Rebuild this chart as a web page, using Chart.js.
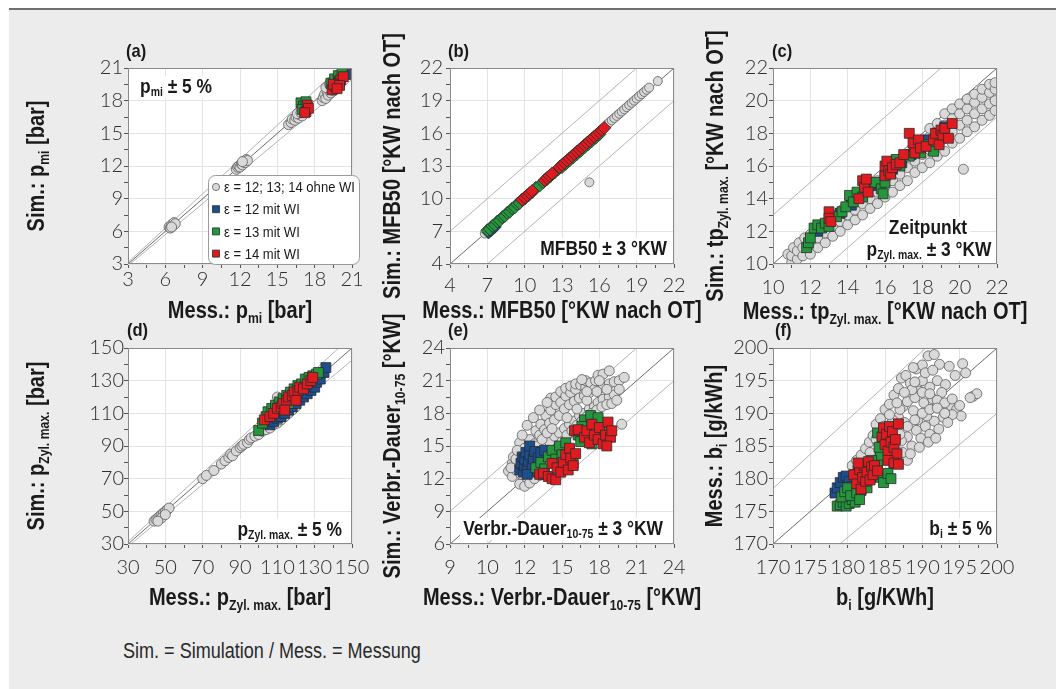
<!DOCTYPE html>
<html>
<head>
<meta charset="utf-8">
<script src="https://cdn.jsdelivr.net/npm/chart.js@4.4.1/dist/chart.umd.min.js"></script>
<style>
  html, body { margin: 0; padding: 0; background: #fff; width: 1056px; height: 689px; overflow: hidden; }
  #frame { position: absolute; left: 9px; top: 8px; width: 1047px; height: 681px; background: #ececec; border-top: 2px solid #707070; box-sizing: border-box; }
  canvas { position: absolute; }
  #note { position: absolute; left: 123px; top: 638px; font: 22px 'Liberation Sans', sans-serif; color: #2a2a2a; white-space: nowrap; transform: scaleX(0.82); transform-origin: 0 0; }
</style>
</head>
<body>
<div id="frame"></div>
<div id="note">Sim. = Simulation / Mess. = Messung</div>
<script>
// series (same four groups in every panel)
const seriesNames = ['ε = 12; 13; 14 ohne WI', 'ε = 12 mit WI', 'ε = 13 mit WI', 'ε = 14 mit WI'];
const seriesFill = ['#d9d9d9', '#1b4f8f', '#24973c', '#df1b20'];

// (a) p_mi [bar]
const aTicks = [3, 6, 9, 12, 15, 18, 21];
const aGray = [[6.3,6.4],[6.4,6.3],[6.5,6.6],[6.6,6.5],[6.7,6.8],[6.8,6.7],[6.5,6.4],[11.7,11.7],[11.8,11.9],[11.9,12.0],[12.0,11.9],[12.1,12.2],[12.2,12.1],[12.3,12.4],[12.4,12.3],[12.5,12.6],[12.6,12.5],[12.2,12.4],[15.9,15.8],[16.1,16.0],[16.2,16.3],[16.4,16.2],[16.5,16.5],[16.7,16.4],[16.8,16.7],[17.0,16.6],[16.6,16.8],[16.9,16.9],[18.6,18.0],[18.7,18.3],[18.8,18.6],[18.9,18.2],[19.0,18.8],[19.1,18.5],[19.2,19.0],[19.3,18.7],[19.4,19.2],[19.5,18.9],[19.6,19.4],[19.7,19.1],[18.9,19.2],[19.2,19.5],[19.5,19.7]];
const aBlue = [[19.4,19.6],[19.8,19.9],[20.2,20.3],[20.5,20.4],[17.2,17.1],[19.6,19.3],[20.0,20.1]];
const aGreen = [[16.9,17.8],[17.1,17.5],[17.3,17.9],[17.0,17.2],[19.3,19.6],[19.6,20.0],[19.9,20.3],[20.2,20.5],[19.5,19.2],[20.0,19.8]];
const aRed = [[17.4,17.6],[17.3,17.0],[17.5,17.3],[17.2,16.9],[19.4,19.0],[19.7,19.3],[19.9,19.6],[20.1,19.9],[20.3,20.2],[19.5,19.5],[20.0,19.4],[19.8,19.1]];
const aLine = [[3,3],[21,21]], aUpper = [[3,3.15],[20,21]], aLower = [[3,2.85],[21,19.95]];

// (b) MFB50 [°KW nach OT]
const bTicks = [4, 7, 10, 13, 16, 19, 22];
const bGray = [[6.8,6.8],[16.6,16.8],[16.8,17.0],[17.0,17.2],[17.2,17.4],[17.4,17.6],[17.6,17.8],[17.8,18.0],[18.0,18.2],[18.2,18.4],[18.4,18.6],[18.6,18.8],[18.8,19.0],[19.0,19.2],[19.2,19.4],[19.4,19.6],[19.6,19.8],[19.8,20.0],[20.0,20.2],[20.7,20.8],[15.2,11.5]];
const bBlue = [[7.1,6.9],[7.3,7.1],[7.6,7.4]];
const bGreen = [[7.0,7.1],[7.2,7.2],[7.4,7.5],[7.6,7.6],[7.8,7.9],[8.0,8.0],[8.2,8.3],[8.4,8.4],[8.6,8.7],[8.8,8.8],[9.0,9.1],[9.2,9.2],[9.4,9.5],[9.6,9.6],[9.8,9.9],[10.0,10.0],[10.3,10.3],[10.6,10.6],[10.9,11.0],[11.2,11.2],[11.5,11.5],[11.8,11.8],[12.1,12.1],[12.4,12.4],[12.7,12.7],[13.0,12.9],[13.3,13.2],[13.6,13.5],[13.9,13.8],[14.2,14.1],[14.5,14.4],[14.8,14.7],[15.1,15.0],[15.4,15.3],[15.7,15.6],[16.0,15.9]];
const bRed = [[9.8,9.9],[10.0,10.1],[10.2,10.3],[10.4,10.5],[10.6,10.7],[11.6,11.7],[11.8,11.9],[12.0,12.1],[12.2,12.3],[12.8,12.9],[13.0,13.1],[13.2,13.3],[13.4,13.5],[13.6,13.7],[13.8,13.9],[14.0,14.1],[14.2,14.3],[14.4,14.5],[14.6,14.7],[14.8,14.9],[15.0,15.1],[15.2,15.3],[15.4,15.5],[15.6,15.7],[15.8,15.9],[16.0,16.1],[16.2,16.3],[16.4,16.5]];
const bLine = [[4,4],[22,22]], bUpper = [[4,7],[19,22]], bLower = [[7,4],[22,19]];

// (c) tp_Zyl.max. [°KW nach OT]
const cTicks = [10, 12, 14, 16, 18, 20, 22];
const cGray = [[10.8,10.6],[11.0,10.1],[11.0,10.5],[11.1,11.0],[11.3,10.3],[11.3,10.8],[11.4,11.3],[11.6,10.5],[11.6,11.0],[11.7,11.6],[12.0,10.6],[12.0,11.2],[12.0,11.8],[12.4,11.0],[12.4,11.6],[12.4,12.2],[12.8,11.3],[12.8,11.9],[12.8,12.5],[13.2,11.7],[13.2,12.3],[13.2,12.9],[13.6,12.0],[13.6,12.6],[13.6,13.2],[14.0,12.4],[14.0,13.0],[14.0,13.6],[14.4,12.7],[14.4,13.3],[14.4,14.0],[14.8,13.0],[14.8,13.7],[14.8,14.4],[15.2,13.4],[15.2,14.0],[15.2,14.8],[15.6,13.7],[15.6,14.4],[15.6,15.1],[16.0,14.1],[16.0,14.8],[16.0,15.5],[16.4,14.4],[16.4,15.1],[16.4,15.9],[16.8,14.8],[16.8,15.5],[16.8,16.3],[17.2,15.1],[17.2,15.9],[17.2,16.7],[17.6,15.6],[17.6,16.3],[17.6,17.0],[18.0,15.9],[18.0,16.7],[18.0,17.5],[18.4,16.2],[18.4,17.0],[18.4,17.8],[18.4,18.3],[18.8,16.6],[18.8,17.4],[18.8,18.2],[18.8,18.6],[19.2,16.9],[19.2,17.7],[19.2,18.5],[19.2,19.2],[19.6,17.4],[19.6,18.1],[19.6,18.9],[19.6,19.5],[20.0,17.7],[20.0,18.5],[20.0,19.2],[20.0,19.8],[20.4,18.1],[20.4,18.8],[20.4,19.5],[20.4,20.1],[20.8,18.4],[20.8,19.2],[20.8,19.9],[20.8,20.4],[21.2,18.8],[21.2,19.5],[21.2,20.2],[21.2,20.7],[21.6,19.1],[21.6,19.8],[21.6,20.5],[21.6,21.0],[21.9,19.4],[21.9,20.0],[21.9,20.7],[21.9,21.1],[20.2,15.8]];
const cBlue = [[12.4,12.0],[13.0,12.6],[13.6,13.1],[14.2,13.6],[14.8,14.2],[15.4,14.8],[16.0,15.4],[16.4,15.8],[16.9,16.2],[17.4,16.7],[17.8,17.1],[18.3,17.6],[18.8,18.0],[19.2,18.4]];
const cGreen = [[11.8,11.0],[11.9,11.3],[12.0,11.6],[12.2,12.2],[12.4,12.4],[12.6,12.2],[12.8,12.5],[13.0,12.3],[13.4,12.9],[13.7,13.2],[13.9,13.5],[14.1,14.2],[14.3,13.8],[14.5,14.4],[14.8,14.1],[15.0,14.7],[15.2,14.9],[15.5,15.0],[15.8,14.6],[15.9,14.3],[16.0,15.0],[16.3,15.6],[16.6,16.4],[16.8,16.0],[17.3,16.6],[17.6,16.8],[17.9,16.8],[18.3,17.3],[18.6,16.9],[18.9,17.6],[19.1,17.8]];
const cRed = [[13.0,13.2],[13.0,12.8],[13.1,12.6],[14.6,14.0],[14.8,15.1],[14.9,14.7],[15.0,15.2],[15.1,14.4],[16.0,15.4],[16.0,16.0],[16.1,16.3],[16.2,15.7],[16.3,15.5],[16.4,15.9],[16.6,16.1],[16.8,16.2],[17.0,16.7],[17.3,18.0],[17.5,17.4],[17.6,16.8],[17.8,17.6],[17.9,17.1],[18.2,17.2],[18.6,17.6],[18.7,18.0],[18.9,17.3],[19.0,18.2],[19.1,17.9],[19.2,18.3],[19.4,17.7],[19.6,18.6]];
const cLine = [[10,10],[22,22]], cUpper = [[10,13],[19,22]], cLower = [[13,10],[22,19]];

// (d) p_Zyl.max. [bar]
const dTicks = [30, 50, 70, 90, 110, 130, 150];
const dGray = [[44,44],[45,45],[46,46],[47,47],[48,48],[49,49],[50,50],[51,51],[52,52],[48,46],[50,48],[46,44],[70,70],[72,72],[76,75],[80,79],[82,81],[84,83],[85,85],[86,84],[88,87],[90,89],[91,90],[92,91],[94,92],[95,94],[96,95],[98,96],[100,97],[102,99],[104,100],[106,101],[108,103],[110,104],[112,106],[114,108],[116,110],[110,120],[118,112],[120,114]];
const dBlue = [[106,103],[108,105],[110,107],[112,108],[114,110],[116,112],[118,114],[120,116],[122,118],[124,120],[126,122],[128,124],[130,126],[131,129],[133,131],[135,135],[136,138],[120,121],[125,127]];
const dGreen = [[100,99.5],[102,104],[104,108],[105,111],[107,113],[109,115],[111,117],[113,119],[115,121],[117,123],[119,125],[121,127],[123,128],[125,131],[127,132],[129,133],[131,134],[132,135],[112,113],[116,116]];
const dRed = [[103,106],[106,108],[108,110],[110,113],[112,114],[113,116],[115,118],[116,120],[118,121],[119,123],[121,124],[122,126],[124,125],[126,128],[128,130],[129,132],[114,112],[120,118]];
const dLine = [[30,30],[150,150]], dUpper = [[30,31.5],[142.86,150]], dLower = [[30,28.5],[150,142.5]];

// (e) Verbr.-Dauer 10-75 [°KW]  (x tick labels as printed in the original)
const eTicks = [6, 9, 12, 15, 18, 21, 24];
const eXTickLabels = ['9', '10', '12', '15', '18', '21', '24'];
const eGray = [[10.7,12.7],[11.0,12.2],[11.0,13.4],[11.1,14.0],[11.3,12.8],[11.3,13.8],[11.6,11.5],[11.6,15.3],[11.7,12.4],[12.0,11.3],[12.0,14.8],[12.1,13.0],[12.4,11.6],[12.4,15.6],[12.5,14.2],[12.8,12.0],[12.8,15.2],[12.9,16.4],[13.2,12.3],[13.2,16.0],[13.3,17.0],[13.3,14.3],[13.6,14.9],[13.6,16.5],[13.7,17.8],[14.0,15.4],[14.0,17.1],[14.1,18.3],[14.1,19.4],[14.4,15.9],[14.4,17.4],[14.5,18.8],[14.5,19.5],[14.8,16.2],[14.8,17.8],[14.9,19.0],[14.9,20.0],[15.2,16.6],[15.2,18.4],[15.3,19.6],[15.3,20.3],[15.6,17.0],[15.6,18.8],[15.7,19.9],[15.7,20.5],[16.0,17.3],[16.0,19.1],[16.1,20.2],[16.1,20.7],[16.4,17.8],[16.4,19.4],[16.5,20.6],[16.8,18.0],[16.8,19.6],[16.9,20.4],[16.9,21.0],[17.2,18.4],[17.2,19.9],[17.3,20.8],[17.6,18.6],[17.6,20.2],[17.7,21.0],[17.9,21.5],[17.9,19.0],[18.3,21.6],[18.3,20.4],[18.3,19.3],[18.8,21.9],[18.8,20.7],[18.8,19.5],[19.2,20.9],[19.2,19.7],[19.6,21.0],[19.6,20.2],[20.0,21.3],[19.8,17.0],[13.8,13.6],[14.2,14.2],[14.6,14.8],[15.0,15.4],[15.4,16.0],[15.8,16.4],[16.2,16.9],[16.6,17.3],[17.0,17.7],[17.4,18.0],[17.8,18.3],[18.2,18.6],[18.6,18.8],[19.0,18.9],[19.4,19.2],[12.6,13.0],[13.0,15.0],[13.4,15.6],[13.8,16.2],[14.2,16.6],[15.4,17.6],[16.2,18.4],[17.0,19.2],[17.8,20.0],[18.6,20.2],[18.0,21.0],[17.0,20.0],[16.6,21.1],[10.9,13.0],[11.4,14.6],[11.8,16.0],[12.2,16.9],[12.7,17.6],[13.2,18.3],[13.8,19.0]];
const eBlue = [[11.6,12.8],[11.7,13.4],[11.8,14.0],[11.9,12.6],[12.0,13.2],[12.0,13.8],[12.1,14.4],[12.2,12.9],[12.3,13.6],[12.4,14.2],[12.4,15.0],[12.6,13.1],[12.7,13.8],[12.8,14.5],[13.0,12.6],[13.1,13.9],[13.3,14.4],[13.5,12.4],[13.6,14.6],[12.2,12.4]];
const eGreen = [[12.9,13.0],[13.3,13.5],[13.6,12.9],[13.9,14.0],[14.2,14.6],[14.5,13.8],[14.8,15.0],[15.0,14.2],[15.3,15.3],[15.6,14.6],[15.9,13.4],[16.3,16.0],[16.5,15.4],[16.8,17.4],[17.0,16.6],[17.3,17.8],[17.6,17.0],[17.9,17.6],[18.2,16.3],[17.4,15.2],[16.6,16.8]];
const eRed = [[13.2,12.4],[13.5,12.5],[13.9,12.2],[14.2,12.0],[14.5,11.9],[14.2,13.4],[14.6,13.0],[14.9,12.6],[15.1,13.5],[15.3,14.2],[15.5,12.8],[15.7,13.9],[15.9,13.2],[15.6,14.8],[16.1,14.3],[16.0,16.4],[16.3,16.5],[16.8,15.8],[17.0,16.4],[17.2,15.3],[17.4,17.0],[17.6,16.0],[17.9,15.6],[18.0,16.7],[18.3,15.2],[18.5,16.0],[18.7,17.2],[18.9,15.8],[19.0,16.4],[18.6,15.0]];
const eLine = [[6,6],[24,24]], eUpper = [[6,9],[21,24]], eLower = [[9,6],[24,21]];

// (f) b_i [g/kWh]
const fTicks = [170, 175, 180, 185, 190, 195, 200];
const fGray = [[180.6,182.0],[181.2,182.8],[181.8,183.6],[182.4,184.6],[182.9,185.6],[183.4,186.6],[183.8,188.3],[184.4,189.2],[185.0,190.6],[185.6,191.4],[186.2,192.8],[186.8,193.8],[187.2,195.4],[187.8,195.8],[188.4,194.6],[189.2,196.8],[190.0,197.4],[190.8,198.8],[191.6,199.0],[192.3,197.5],[192.0,195.0],[193.1,194.4],[191.0,194.0],[189.6,193.4],[188.2,192.6],[187.4,191.0],[186.8,189.4],[186.3,187.8],[187.6,188.6],[188.8,190.4],[190.2,191.6],[191.4,192.2],[192.6,193.2],[193.8,191.2],[194.6,190.6],[195.2,189.6],[194.0,189.8],[192.8,189.4],[191.6,188.8],[190.4,188.0],[189.2,187.4],[188.0,186.4],[187.2,185.8],[188.6,185.0],[189.8,186.2],[191.0,186.8],[192.2,187.6],[193.4,188.6],[190.6,189.6],[189.4,189.0],[188.0,182.8],[186.6,184.2],[185.6,186.0],[195.4,197.6],[195.8,196.2],[196.8,192.6],[197.3,193.0],[196.4,192.4],[184.8,184.4],[183.6,183.2],[182.6,182.0],[186.0,182.6],[183.0,184.0],[184.0,185.6],[185.0,187.4],[186.0,189.0],[187.0,190.6],[188.0,191.8],[189.0,192.4],[190.0,193.2],[191.0,193.0],[192.0,192.0],[193.0,191.6],[194.0,192.2],[195.0,191.2],[188.6,193.6],[187.6,193.2],[186.6,191.6],[185.6,189.8],[184.8,188.0],[183.8,186.0],[185.0,184.2],[186.0,185.4],[187.0,186.8],[188.0,188.0],[189.0,189.0],[190.0,190.0],[191.0,190.6],[192.0,190.8],[193.0,190.0],[190.0,195.0],[189.0,194.8],[188.8,197.0],[190.4,196.2],[191.4,196.6],[193.6,197.2],[194.4,195.8],[189.6,184.8],[190.8,185.6],[187.4,184.0],[188.4,183.8],[191.8,186.2]];
const fBlue = [[178.3,177.8],[178.6,178.6],[179.0,179.4],[179.4,180.2],[179.8,180.4],[180.2,179.6],[180.6,178.8],[181.0,180.6],[181.4,181.2],[182.0,181.6],[183.2,180.4],[185.8,184.0],[186.2,182.4]];
const fGreen = [[178.6,175.8],[179.0,176.0],[179.4,176.4],[179.8,175.8],[180.2,176.2],[180.6,176.8],[181.0,176.4],[179.2,177.2],[179.6,178.0],[180.0,178.6],[180.4,177.4],[181.2,177.8],[181.8,178.2],[181.6,176.8],[182.2,179.0],[182.6,178.6],[183.0,180.0],[183.6,180.6],[184.4,180.2],[184.8,179.4],[185.4,180.8],[185.8,180.0],[183.4,181.6],[184.0,182.4],[184.4,183.6],[184.6,186.0],[184.0,187.0],[184.2,184.8],[185.2,185.4],[183.2,182.8]];
const fRed = [[180.8,180.6],[181.2,179.2],[181.6,181.4],[181.8,178.4],[182.0,180.2],[182.2,182.0],[182.4,179.6],[182.6,181.0],[182.8,182.6],[183.0,179.8],[183.2,181.8],[183.4,180.6],[183.6,182.0],[184.0,181.2],[181.4,182.4],[184.6,186.4],[184.8,187.8],[185.0,185.2],[185.2,186.8],[185.4,184.2],[185.6,188.0],[185.8,185.6],[186.0,187.2],[186.2,184.8],[186.4,186.0],[186.6,183.8],[186.8,188.4],[185.4,182.8],[186.2,182.4],[186.8,182.2]];
const fLine = [[170,170],[200,200]], fUpper = [[170,178.5],[190.48,200]], fLower = [[178.95,170],[200,190]];

const FONT = "'Liberation Sans', Arial, sans-serif";
const SX = 0.87;            // horizontal squeeze for a condensed look
const INK = '#1a1a1a';
const PW = 224, PH = 196, ML = 110, MT = 56, MR = 50, MB = 72;

const pts = a => a.map(p => ({ x: p[0], y: p[1] }));

function partFont(p, size, weight) {
  return `${weight} ${p[1] ? Math.round(size * 0.62) : size}px ${FONT}`;
}

function richWidth(ctx, parts, size, weight = 'bold') {
  let w = 0;
  parts.forEach(p => {
    ctx.font = partFont(p, size, weight);
    w += ctx.measureText(p[0]).width * SX;
  });
  return w;
}

function rich(ctx, parts, x, y, size, align, weight = 'bold') {
  const w = richWidth(ctx, parts, size, weight);
  let cx = align === 'center' ? x - w / 2 : align === 'right' ? x - w : x;
  ctx.textAlign = 'left';
  ctx.textBaseline = 'middle';
  parts.forEach(p => {
    ctx.font = partFont(p, size, weight);
    ctx.save();
    ctx.translate(cx, p[1] ? y + size * 0.3 : y);
    ctx.scale(SX, 1);
    ctx.fillText(p[0], 0, 0);
    ctx.restore();
    cx += ctx.measureText(p[0]).width * SX;
  });
  return w;
}

function drawLegend(ctx, x, y) {
  ctx.fillStyle = '#fff';
  ctx.strokeStyle = '#9a9a9a';
  ctx.lineWidth = 1;
  ctx.beginPath();
  ctx.roundRect(x + 0.5, y + 0.5, 151, 89, 7);
  ctx.fill();
  ctx.stroke();
  seriesNames.forEach((name, k) => {
    const cy = y + 12 + k * 22.2, mx = x + 8;
    ctx.fillStyle = seriesFill[k];
    ctx.strokeStyle = k ? '#2b2b2b' : '#5a5a5a';
    ctx.lineWidth = 0.8;
    ctx.beginPath();
    if (k) ctx.rect(mx - 3.5, cy - 3.5, 7, 7);
    else ctx.arc(mx, cy, 3.6, 0, 2 * Math.PI);
    ctx.fill();
    ctx.stroke();
    ctx.fillStyle = INK;
    rich(ctx, [[name]], x + 16, cy + 1, 15, 'left', 'normal');
  });
}

function makeDeco(p) {
  const ox = p.L - ML, oy = p.T - MT;
  return {
    id: 'deco',
    beforeDraw(chart) {
      const { ctx, chartArea: a } = chart;
      ctx.save();
      ctx.fillStyle = '#fff';
      ctx.fillRect(a.left, a.top, a.width, a.height);
      ctx.restore();
    },
    afterDraw(chart) {
      const { ctx, chartArea: a } = chart;
      ctx.save();
      ctx.strokeStyle = '#8a8a8a';
      ctx.lineWidth = 1;
      ctx.strokeRect(a.left + 0.5, a.top + 0.5, a.width - 1, a.height - 1);

      ctx.fillStyle = INK;
      rich(ctx, [[p.tag]], p.tagX - ox, p.tagY - oy, 19, 'left');

      rich(ctx, p.xTitle, a.left + a.width / 2, p.xTitleY - oy, 23, 'center');
      ctx.save();
      ctx.translate(p.yTitleX - ox, a.top + a.height / 2);
      ctx.rotate(-Math.PI / 2);
      rich(ctx, p.yTitle, 0, 0, 23, 'center');
      ctx.restore();

      p.notes.forEach(n => {
        const w = richWidth(ctx, n.parts, 20);
        const x0 = n.align === 'center' ? n.x - w / 2 : n.align === 'right' ? n.x - w : n.x;
        ctx.fillStyle = '#fff';
        ctx.fillRect(x0 - ox - 3, n.y - oy - 11, w + 6, 22);
        ctx.fillStyle = INK;
        rich(ctx, n.parts, n.x - ox, n.y - oy, 20, n.align);
      });

      if (p.legend) drawLegend(ctx, 208 - ox, 175 - oy);
      ctx.restore();
    }
  };
}

function axis(values, labels, pad, isX) {
  const min = values[0], max = values[values.length - 1], step = values[1] - values[0];
  return {
    type: 'linear',
    min: min,
    max: max,
    afterBuildTicks: s => {
      s.ticks = [];
      for (let i = 0; i <= 2 * (values.length - 1); i++) s.ticks.push({ value: min + i * step / 2 });
    },
    afterFit: s => { if (isX) s.height = MB; else s.width = ML; },
    ticks: {
      autoSkip: false,
      maxRotation: 0,
      padding: pad,
      color: '#2e2e2e',
      font: { family: 'Lato', size: 20, weight: '300', lineHeight: 1 },
      callback: (v, i) => (i % 2 ? '' : String(labels[i / 2]))
    },
    grid: {
      color: c => (c.index % 2 ? 'rgba(0,0,0,0)' : '#e3e3e3'),
      tickColor: '#555',
      tickLength: 4,
      lineWidth: 1
    },
    border: { display: false }
  };
}

function panel(p) {
  const cv = document.createElement('canvas');
  cv.width = PW + ML + MR;
  cv.height = PH + MT + MB;
  cv.style.left = (p.L - ML) + 'px';
  cv.style.top = (p.T - MT) + 'px';
  document.body.appendChild(cv);

  const sets = p.series.map((d, k) => ({
    data: pts(d),
    pointStyle: k ? p.square : 'circle',
    pointRadius: k ? p.rs : p.rc,
    backgroundColor: seriesFill[k],
    borderColor: k ? '#2b2b2b' : '#5c5c5c',
    borderWidth: 0.8,
    order: 10 - k
  }));
  p.lines.forEach((l, k) => sets.push({
    data: pts(l),
    showLine: true,
    pointRadius: 0,
    borderColor: k ? '#b4b4b4' : '#6a6a6a',
    borderWidth: 1,
    order: 20
  }));

  return new Chart(cv, {
    type: 'scatter',
    data: { datasets: sets },
    options: {
      responsive: false,
      animation: false,
      events: [],
      layout: { padding: { top: MT, right: MR, left: 0, bottom: 0 } },
      plugins: { legend: { display: false }, tooltip: { enabled: false } },
      scales: {
        x: axis(p.x, p.xLabels || p.x, p.xPad, true),
        y: axis(p.y, p.y, p.yPad, false)
      }
    },
    plugins: [makeDeco(p)]
  });
}

panel({
  L: 128, T: 68, tag: '(a)', tagX: 126, tagY: 52,
  x: aTicks, y: aTicks, xPad: 2, yPad: 1,
  series: [aGray, aBlue, aGreen, aRed], lines: [aLine, aUpper, aLower],
  square: 'rect', rc: 5, rs: 7,
  xTitle: [['Mess.: p'], ['mi', 1], [' [bar]']], xTitleY: 312,
  yTitle: [['Sim.: p'], ['mi', 1], [' [bar]']], yTitleX: 38,
  notes: [{ parts: [['p'], ['mi', 1], [' ± 5 %']], x: 140, y: 87, align: 'left' }],
  legend: true
});

panel({
  L: 450, T: 68, tag: '(b)', tagX: 448, tagY: 52,
  x: bTicks, y: bTicks, xPad: 8, yPad: 3,
  series: [bGray, bBlue, bGreen, bRed], lines: [bLine, bUpper, bLower],
  square: 'rectRot', rc: 4.5, rs: 6.5,
  xTitle: [['Mess.: MFB50 [°KW nach OT]']], xTitleY: 312,
  yTitle: [['Sim.: MFB50 [°KW nach OT]']], yTitleX: 394,
  notes: [{ parts: [['MFB50 ± 3 °KW']], x: 667, y: 249, align: 'right' }]
});

panel({
  L: 773, T: 68, tag: '(c)', tagX: 772, tagY: 52,
  x: cTicks, y: cTicks, xPad: 10, yPad: 1,
  series: [cGray, cBlue, cGreen, cRed], lines: [cLine, cUpper, cLower],
  square: 'rect', rc: 5, rs: 7,
  xTitle: [['Mess.: tp'], ['Zyl. max.', 1], [' [°KW nach OT]']], xTitleY: 313,
  yTitle: [['Sim.: tp'], ['Zyl. max.', 1], [' [°KW nach OT]']], yTitleX: 717,
  notes: [
    { parts: [['Zeitpunkt']], x: 928, y: 228, align: 'center' },
    { parts: [['p'], ['Zyl. max.', 1], [' ± 3 °KW']], x: 929, y: 250, align: 'center' }
  ]
});

panel({
  L: 128, T: 348, tag: '(d)', tagX: 127, tagY: 331,
  x: dTicks, y: dTicks, xPad: 10, yPad: 0,
  series: [dGray, dBlue, dGreen, dRed], lines: [dLine, dUpper, dLower],
  square: 'rect', rc: 5, rs: 7,
  xTitle: [['Mess.: p'], ['Zyl. max.', 1], [' [bar]']], xTitleY: 599,
  yTitle: [['Sim.: p'], ['Zyl. max.', 1], [' [bar]']], yTitleX: 38,
  notes: [{ parts: [['p'], ['Zyl. max.', 1], [' ± 5 %']], x: 342, y: 530, align: 'right' }]
});

panel({
  L: 450, T: 348, tag: '(e)', tagX: 448, tagY: 331,
  x: eTicks, xLabels: eXTickLabels, y: eTicks, xPad: 10, yPad: 1,
  series: [eGray, eBlue, eGreen, eRed], lines: [eLine, eUpper, eLower],
  square: 'rect', rc: 5, rs: 7,
  xTitle: [['Mess.: Verbr.-Dauer'], ['10-75', 1], [' [°KW]']], xTitleY: 599,
  yTitle: [['Sim.: Verbr.-Dauer'], ['10-75', 1], [' [°KW]']], yTitleX: 394,
  notes: [{ parts: [['Verbr.-Dauer'], ['10-75', 1], [' ± 3 °KW']], x: 663, y: 529, align: 'right' }]
});

panel({
  L: 773, T: 348, tag: '(f)', tagX: 775, tagY: 331,
  x: fTicks, y: fTicks, xPad: 10, yPad: 1,
  series: [fGray, fBlue, fGreen, fRed], lines: [fLine, fUpper, fLower],
  square: 'rect', rc: 5, rs: 7,
  xTitle: [['b'], ['i', 1], [' [g/KWh]']], xTitleY: 599,
  yTitle: [['Mess.: b'], ['i', 1], [' [g/kWh]']], yTitleX: 716,
  notes: [{ parts: [['b'], ['i', 1], [' ± 5 %']], x: 992, y: 529, align: 'right' }]
});
</script>
</body>
</html>
